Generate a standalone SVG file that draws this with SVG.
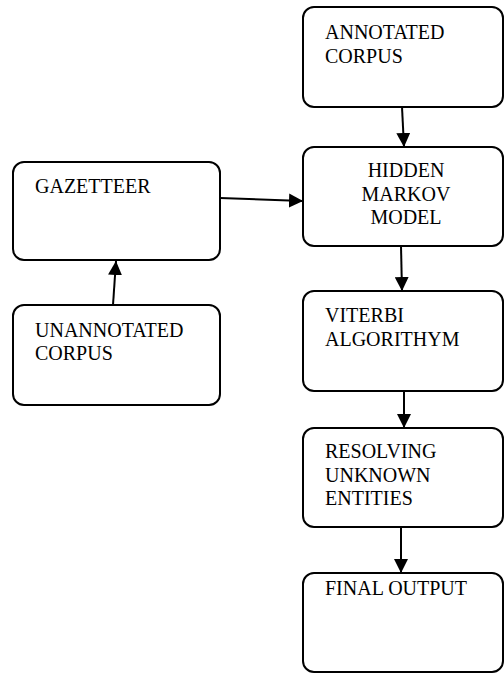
<svg xmlns="http://www.w3.org/2000/svg" width="504" height="673" viewBox="0 0 504 673">
<style>
.box{fill:#fff;stroke:#000;stroke-width:2}
.t{font-family:"Liberation Serif","Times New Roman",serif;font-size:20px;fill:#000}
.c{text-anchor:middle}
.ln{stroke:#000;stroke-width:2;fill:none}
</style>
<defs>
<marker id="ah" markerWidth="14" markerHeight="14" refX="14" refY="7" orient="auto" markerUnits="userSpaceOnUse">
<path d="M0,0 L14,7 L0,14 Z" fill="#000"/>
</marker>
</defs>
<rect width="504" height="673" fill="#fff"/>
<g id="connectors">
<line class="ln" x1="402" y1="107" x2="404" y2="147" marker-end="url(#ah)"/>
<line class="ln" x1="220" y1="198" x2="303" y2="201" marker-end="url(#ah)"/>
<line class="ln" x1="113" y1="305" x2="116" y2="261" marker-end="url(#ah)"/>
<line class="ln" x1="401" y1="246" x2="402" y2="291" marker-end="url(#ah)"/>
<line class="ln" x1="404" y1="391" x2="404" y2="428" marker-end="url(#ah)"/>
<line class="ln" x1="401" y1="527" x2="401" y2="573" marker-end="url(#ah)"/>
</g>
<g id="annotated">
<rect class="box" x="303" y="7" width="200" height="100" rx="11"/>
<text class="t" x="325" y="39">ANNOTATED</text>
<text class="t" x="325" y="63">CORPUS</text>
</g>
<g id="hmm">
<rect class="box" x="303" y="147" width="200" height="99" rx="11"/>
<text class="t c" x="406" y="177">HIDDEN</text>
<text class="t c" x="406" y="201">MARKOV</text>
<text class="t c" x="406" y="224">MODEL</text>
</g>
<g id="gazetteer">
<rect class="box" x="13" y="162" width="207" height="98" rx="11"/>
<text class="t" x="35" y="193">GAZETTEER</text>
</g>
<g id="unannotated">
<rect class="box" x="13" y="305" width="207" height="100" rx="11"/>
<text class="t" x="35" y="337">UNANNOTATED</text>
<text class="t" x="35" y="360">CORPUS</text>
</g>
<g id="viterbi">
<rect class="box" x="303" y="291" width="200" height="100" rx="11"/>
<text class="t" x="325" y="322">VITERBI</text>
<text class="t" x="325" y="346">ALGORITHYM</text>
</g>
<g id="resolving">
<rect class="box" x="303" y="428" width="200" height="99" rx="11"/>
<text class="t" x="325" y="458">RESOLVING</text>
<text class="t" x="325" y="482">UNKNOWN</text>
<text class="t" x="325" y="505">ENTITIES</text>
</g>
<g id="final">
<rect class="box" x="303" y="573" width="200" height="99" rx="11"/>
<text class="t" x="325" y="595">FINAL OUTPUT</text>
</g>
</svg>
